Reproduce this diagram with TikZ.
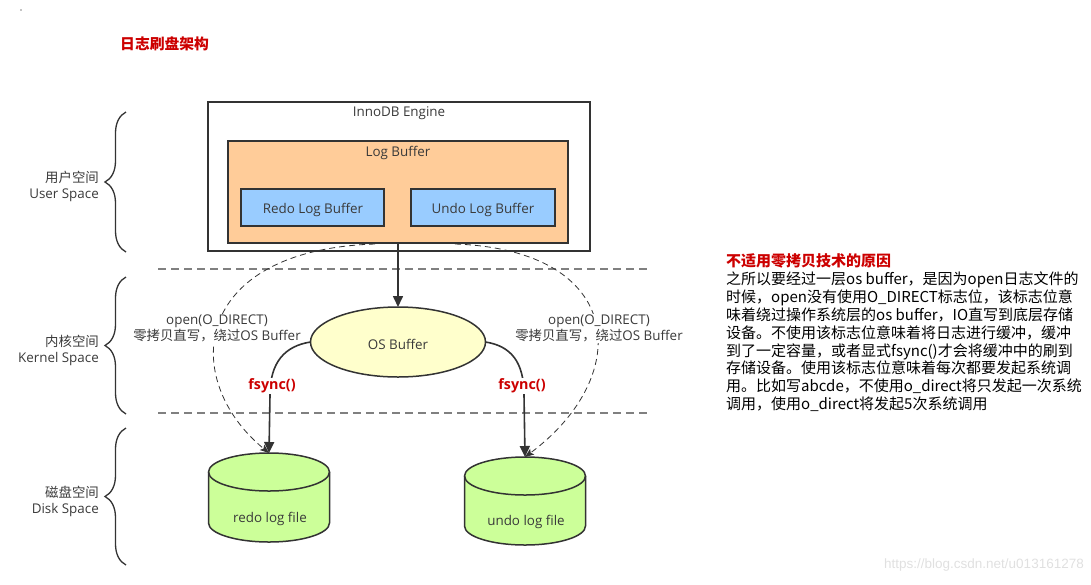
\documentclass[tikz,border=0pt]{standalone}
\usepackage{fontspec}
\setmainfont{Open Sans}
\newfontfamily\cjk{Noto Sans CJK SC}
\newfontfamily\wmfont{Liberation Sans}
\usetikzlibrary{arrows.meta,decorations.pathreplacing,shapes.geometric}
\definecolor{ink}{HTML}{333333}
\definecolor{txt}{HTML}{3A3A3A}
\definecolor{hred}{HTML}{CC0000}
\definecolor{logbuf}{HTML}{FFCC99}
\definecolor{bluebuf}{HTML}{99CCFF}
\definecolor{osbuf}{HTML}{FFFFCC}
\definecolor{disk}{HTML}{CCFF99}
\definecolor{sep}{HTML}{808080}
\begin{document}
\begin{tikzpicture}[x=1pt,y=1pt,
  lbl/.style={font=\fontsize{13.4}{16}\selectfont, text=txt, inner sep=0pt},
  boxx/.style={draw=ink, line width=1.5pt, inner sep=0pt, outer sep=0pt},
  bracex/.style={draw=ink, line width=1.3pt, decorate, decoration={brace, amplitude=21pt}},
  sepline/.style={draw=sep, line width=1.8pt, dash pattern=on 8pt off 5pt},
  solidarrow/.style={draw=ink, line width=1.6pt, -{Triangle[length=11pt,width=10pt]}},
  dasharrow/.style={draw=ink, line width=0.8pt, dash pattern=on 6pt off 4pt, -{Stealth[length=9pt,width=7pt,inset=2pt]}},
  redlbl/.style={font=\fontsize{14.3}{16}\selectfont\bfseries, text=hred, inner sep=1pt, fill=white},
  cyl/.style={fill=disk, draw=ink, line width=1.5pt}
]
\useasboundingbox (0,0) rectangle (1091,-584);
\fill (21,-10) circle (0.7);

% title
\node[font=\cjk\fontsize{14.8}{16}\selectfont\bfseries, text=hred, anchor=west, inner sep=0pt] (title) at (120,-44) {日志刷盘架构};

% braces and labels
\draw[bracex] (126,-252) -- (126,-112);
\draw[bracex] (126,-414) -- (126,-277);
\draw[bracex] (126,-565) -- (126,-428);
\node[lbl, anchor=east, align=right] (usr) at (99,-186) {{\cjk 用户空间}\\User Space};
\node[lbl, anchor=east, align=right] (krn) at (99,-350) {{\cjk 内核空间}\\Kernel Space};
\node[lbl, anchor=east, align=right] (dsk) at (99,-501) {{\cjk 磁盘空间}\\Disk Space};

% separators
\draw[sepline] (158,-269) -- (648,-269);
\draw[sepline] (158,-413) -- (648,-413);

% InnoDB engine
\node[boxx, fill=white, minimum width=382pt, minimum height=149pt] (inno) at (399,-176.5) {};
\node[lbl] (innot) at (399,-113.5) {InnoDB Engine};
\node[boxx, fill=logbuf, minimum width=340pt, minimum height=102pt] (logb) at (398,-192) {};
\node[lbl] (logbt) at (398,-152.5) {Log Buffer};
\node[boxx, fill=bluebuf, minimum width=143pt, minimum height=37pt] (redob) at (312.5,-207.5) {};
\node[lbl] (redobt) at (313,-210) {Redo Log Buffer};
\node[boxx, fill=bluebuf, minimum width=144pt, minimum height=37pt] (undob) at (483,-207.5) {};
\node[lbl] (undobt) at (483,-210) {Undo Log Buffer};

% OS buffer
\node[ellipse, draw=ink, line width=1.5pt, fill=osbuf, minimum width=175pt, minimum height=70pt, inner sep=0pt, outer sep=0pt] (os) at (398,-342) {};
\node[lbl] (ost) at (398,-344) {OS Buffer};

% disks
\filldraw[cyl] (208.5,-472) -- (208.5,-523) arc[start angle=180, end angle=360, x radius=60.5pt, y radius=19pt] -- (329.5,-472) arc[start angle=0, end angle=180, x radius=60.5pt, y radius=19pt] -- cycle;
\draw[ink, line width=1.5pt] (208.5,-472) arc[start angle=180, end angle=360, x radius=60.5pt, y radius=19pt];
\coordinate (redotop) at (269,-453);
\node[lbl] (redot) at (270,-518.5) {redo log file};

\filldraw[cyl] (464.5,-476) -- (464.5,-526) arc[start angle=180, end angle=360, x radius=60.5pt, y radius=19pt] -- (585.5,-476) arc[start angle=0, end angle=180, x radius=60.5pt, y radius=19pt] -- cycle;
\draw[ink, line width=1.5pt] (464.5,-476) arc[start angle=180, end angle=360, x radius=60.5pt, y radius=19pt];
\coordinate (undotop) at (525,-457);
\node[lbl] (undot) at (526,-521.5) {undo log file};

% dashed direct paths
\coordinate (dl) at (375,-244);
\coordinate (dr) at (455,-244);
\draw[dasharrow] (dl) .. controls (190,-250) and (180,-380) .. (redotop);
\draw[dasharrow] (dr) .. controls (625,-250) and (635,-375) .. (undotop);

% main arrows
\draw[solidarrow] (logb.south) -- (os.north);
\draw[solidarrow] (os.west) .. controls (285,-346) and (270,-362) .. (270,-395) -- (redotop);
\draw[solidarrow] (os.east) .. controls (511,-346) and (524,-362) .. (524,-395) -- (undotop);
\node[redlbl] (fs1) at (272,-386) {fsync()};
\node[redlbl] (fs2) at (522,-386) {fsync()};

% direct labels
\node[lbl, align=center, fill=white, inner sep=1pt] (odl) at (217,-328.5) {open(O\_DIRECT)\\{\cjk 零拷贝直写，绕过}OS Buffer};
\node[lbl, align=center, fill=white, inner sep=1pt] (odr) at (599,-328.5) {open(O\_DIRECT)\\{\cjk 零拷贝直写，绕过}OS Buffer};

% explanation
\node[anchor=north west, align=left, inner sep=0pt, text=black, font=\cjk\fontsize{15}{17.9}\selectfont] (expl) at (726,-253.5) {{\color{hred}\bfseries 不适用零拷贝技术的原因}\\
之所以要经过一层os buffer，是因为open日志文件的\\
时候，open没有使用O\_DIRECT标志位，该标志位意\\
味着绕过操作系统层的os buffer，IO直写到底层存储\\
设备。不使用该标志位意味着将日志进行缓冲，缓冲\\
到了一定容量，或者显式fsync()才会将缓冲中的刷到\\
存储设备。使用该标志位意味着每次都要发起系统调\\
用。比如写abcde，不使用o\_direct将只发起一次系统\\
调用，使用o\_direct将发起5次系统调用};

% watermark
\node[anchor=east, inner sep=0pt, text=black!12, font=\wmfont\fontsize{13.5}{16}\selectfont] (wm) at (1084,-565) {https://blog.csdn.net/u013161278};
\end{tikzpicture}
\end{document}
